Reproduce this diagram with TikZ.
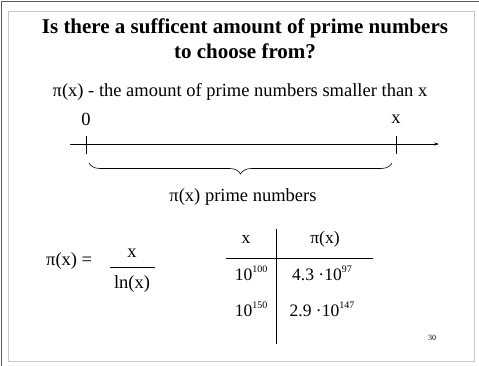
\documentclass[tikz,border=0pt]{standalone}
\usepackage{fontspec}
\setmainfont{Liberation Serif}
\usetikzlibrary{decorations.pathreplacing,arrows.meta}
\newcommand{\supsc}[1]{\raisebox{0.45em}{\fontsize{10}{10}\selectfont #1}}
\begin{document}
\begin{tikzpicture}[x=1pt,y=-1pt,
  txt/.style={inner sep=0pt,font=\fontsize{18.5}{22}\selectfont},
  tab/.style={inner sep=0pt,font=\fontsize{17.5}{21}\selectfont},
  ttl/.style={inner sep=0pt,font=\fontsize{21}{24}\selectfont\bfseries},
  tline/.style={line width=0.8pt,black}]
\useasboundingbox (0,0) rectangle (479,366);
\fill[white] (0,0) rectangle (479,366);
% frames
\draw[line width=1.6pt,black!65] (1.5,366) -- (1.5,1.5) -- (479,1.5);
\draw[line width=1pt,black!22] (8.5,11.5) rectangle (474,361);
% title
\node[ttl] (t1) at (245,28) {Is there a sufficent amount of prime numbers};
\node[ttl] (t2) at (245,51) {to choose from?};
\node[txt] (def) at (240,92) {π(x) - the amount of prime numbers smaller than x};
% axis
\node[txt] (zero) at (86,119) {0};
\node[txt] (xl) at (396,119) {x};
\coordinate (a0) at (70,144);
\coordinate (a1) at (439,144);
\draw[line width=0.6pt,-{Stealth[length=5pt,width=3pt]}] (a0) -- (a1);
\coordinate (k0) at (86,136); \coordinate (k0b) at (86,154);
\coordinate (k1) at (396,136); \coordinate (k1b) at (396,154);
\draw[line width=0.6pt] (k0) -- (k0b);
\draw[line width=0.6pt] (k1) -- (k1b);
\coordinate (b0) at (89,163); \coordinate (b1) at (392,163);
\draw[line width=0.6pt,decorate,decoration={brace,mirror,amplitude=11pt}] (b0) -- (b1);
\node[txt] (pn) at (243,197) {π(x) prime numbers};
% formula
\node[txt,anchor=west] (pix) at (46,261) {π(x) =};
\node[txt] (num) at (132,253) {x};
\coordinate (f0) at (110,267); \coordinate (f1) at (155,267);
\draw[line width=0.8pt] (f0) -- (f1);
\node[txt] (den) at (132,284) {ln(x)};
% table
\coordinate (v0) at (276,229); \coordinate (v1) at (276,344);
\coordinate (h0) at (226,258); \coordinate (h1) at (373,258);
\draw[tline] (v0) -- (v1);
\draw[tline] (h0) -- (h1);
\node[tab] (hx) at (246,239) {x};
\node[tab] (hp) at (325,239) {π(x)};
\node[tab] (r1a) at (251,273) {10\supsc{100}};
\node[tab] (r1b) at (322,273) {4.3 ·10\supsc{97}};
\node[tab] (r2a) at (251,309) {10\supsc{150}};
\node[tab] (r2b) at (322,309) {2.9 ·10\supsc{147}};
\node[inner sep=0pt,font=\fontsize{8}{9}\selectfont] (pg) at (432,338) {30};
\end{tikzpicture}
\end{document}
